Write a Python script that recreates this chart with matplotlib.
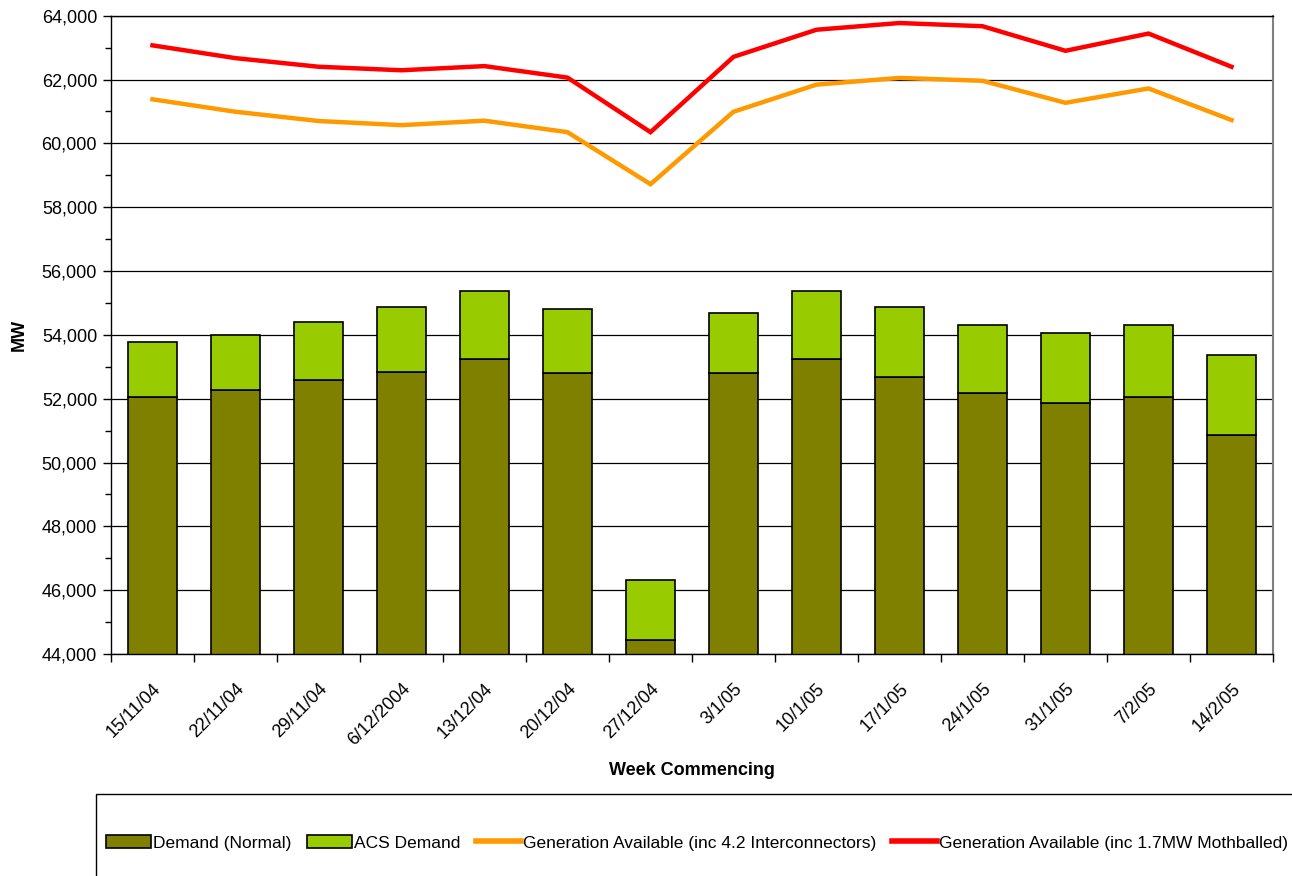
# Weekly demand vs generation available, winter 2004/05

import numpy as np
import matplotlib
matplotlib.use("Agg")
import matplotlib.pyplot as plt
from matplotlib.patches import Rectangle, Patch
from matplotlib.lines import Line2D
from matplotlib.ticker import MultipleLocator, FuncFormatter
from matplotlib.transforms import ScaledTranslation

weeks = ['15/11/04', '22/11/04', '29/11/04', '6/12/2004', '13/12/04', '20/12/04', '27/12/04',
         '3/1/05', '10/1/05', '17/1/05', '24/1/05', '31/1/05', '7/2/05', '14/2/05']

# demand (normal) and total demand incl. ACS, MW
demand_normal = [52050, 52270, 52570, 52850, 53250, 52800, 44450,
                 52800, 53250, 52680, 52170, 51880, 52050, 50860]
demand_total = [53780, 54010, 54410, 54860, 55380, 54800, 46330,
                54700, 55380, 54860, 54300, 54070, 54300, 53380]
acs_demand = [t - n for t, n in zip(demand_total, demand_normal)]

gen_interconnectors = [61380, 60990, 60700, 60570, 60710, 60350, 58720,
                       60990, 61840, 62050, 61960, 61270, 61720, 60730]
gen_mothballed = [63070, 62670, 62400, 62290, 62420, 62060, 60350,
                  62710, 63560, 63770, 63670, 62900, 63440, 62400]

plt.rcParams['font.family'] = ['Liberation Sans', 'DejaVu Sans']
fs = 13

fig = plt.figure(figsize=(12.92, 8.76), dpi=100)
ax = fig.add_axes([0.0859, 0.2534, 0.8994, 0.7287])

x = np.arange(len(weeks))
olive = '#808000'
lime = '#99CC00'

ax.bar(x, demand_normal, width=0.58, bottom=0, color=olive, edgecolor='black', linewidth=1.2, zorder=2)
ax.bar(x, acs_demand, width=0.58, bottom=demand_normal, color=lime, edgecolor='black', linewidth=1.2, zorder=2)
ax.plot(x, gen_interconnectors, color='#FF9900', linewidth=3.2, zorder=3, solid_joinstyle='miter')
ax.plot(x, gen_mothballed, color='#FF0000', linewidth=3.2, zorder=3, solid_joinstyle='miter')

ax.set_xlim(-0.5, len(weeks) - 0.5)
ax.set_ylim(44000, 64000)

ax.yaxis.set_major_locator(MultipleLocator(2000))
ax.yaxis.set_minor_locator(MultipleLocator(1000))
ax.yaxis.set_major_formatter(FuncFormatter(lambda v, p: f'{int(v):,}'))
ax.grid(axis='y', which='major', color='black', linewidth=0.9, zorder=0)
ax.set_axisbelow(True)

# ticks sit between categories, labels at category centres
ax.set_xticks(np.arange(-0.5, len(weeks), 1.0))
ax.set_xticklabels([])
ax.set_xticks(x, minor=True)
ax.set_xticklabels(weeks, minor=True, rotation=45, ha='right', va='top',
                   rotation_mode='anchor', fontsize=fs)
shift = ScaledTranslation(-0.06, 0, fig.dpi_scale_trans)
for lab in ax.get_xticklabels(minor=True):
    lab.set_transform(lab.get_transform() + shift)
ax.tick_params(axis='x', which='major', direction='out', length=6, width=1, color='black')
ax.tick_params(axis='x', which='minor', length=0, pad=19)
ax.tick_params(axis='y', which='major', direction='out', length=6, width=1, labelsize=fs, pad=4)
ax.tick_params(axis='y', which='minor', direction='out', length=4, width=1)

for side in ['left', 'bottom', 'top']:
    ax.spines[side].set_color('black')
    ax.spines[side].set_linewidth(1.0)
ax.spines['right'].set_color('#808080')
ax.spines['right'].set_linewidth(1.5)

ax.set_ylabel('MW', fontsize=fs, fontweight='bold', va='center')
ax.yaxis.set_label_coords(-0.0792, 0.5)
ax.set_xlabel('Week Commencing', fontsize=fs, fontweight='bold', va='center')
ax.xaxis.set_label_coords(0.5, -0.1817)

# legend frame runs off the figure at right and bottom
fig.patches.append(Rectangle((0.0743, -0.05), 1.0, 0.1436, transform=fig.transFigure,
                             facecolor='none', edgecolor='black', linewidth=1.0))

handles = [Patch(facecolor=olive, edgecolor='black', linewidth=1.2),
           Patch(facecolor=lime, edgecolor='black', linewidth=1.2),
           Line2D([], [], color='#FF9900', linewidth=4),
           Line2D([], [], color='#FF0000', linewidth=4)]
labels = ['Demand (Normal)', 'ACS Demand', 'Generation Available (inc 4.2 Interconnectors)',
          'Generation Available (inc 1.7MW Mothballed)']
fig.legend(handles, labels, loc='center', bbox_to_anchor=(0.5395, 0.0377), ncol=4, frameon=False,
           fontsize=12.5, handlelength=2.6, handletextpad=0.1, columnspacing=0.9, borderpad=0)

fig.savefig('out.png', dpi=100)
